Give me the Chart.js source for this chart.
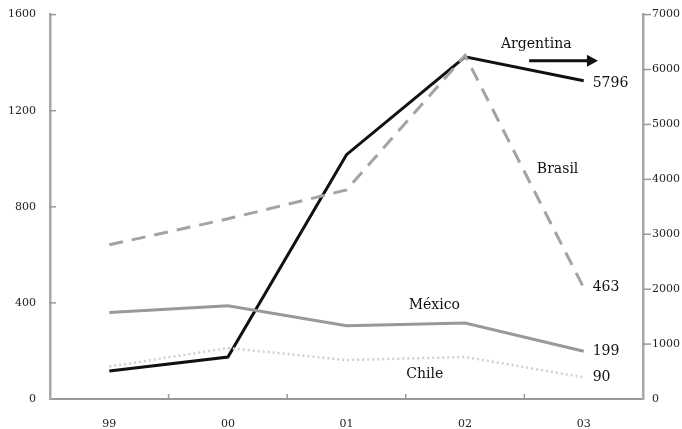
<!DOCTYPE html>
<html>
<head>
<meta charset="utf-8">
<script src="https://cdn.jsdelivr.net/npm/chart.js@4/dist/chart.umd.min.js"></script>
<style>
  html, body { margin: 0; padding: 0; background: #fff; }
  #wrap { width: 682px; height: 429px; }
</style>
</head>
<body>
<div id="wrap"><canvas id="chart"></canvas></div>
<script>
// Years on the x axis
const years = ['99', '00', '01', '02', '03'];

// Series values (Argentina on the right axis, the others on the left)
const argentina = [510, 765, 4450, 6230, 5796];
const brasil = [642, 750, 870, 1430, 463];
const mexico = [360, 388, 305, 316, 199];
const chile = [135, 212, 162, 175, 90];

// Axis ticks
const leftTicks = [0, 400, 800, 1200, 1600];
const rightTicks = [0, 1000, 2000, 3000, 4000, 5000, 6000, 7000];

const serif = "'DejaVu Serif', 'Liberation Serif', serif";

// Text labels next to the lines and the end values
const notes = [
    { text: 'Argentina', x: 3.6, y: 6450, axis: 'y1', align: 'center' },
    { text: 'Brasil', x: 3.78, y: 955, axis: 'y', align: 'center' },
    { text: 'México', x: 2.74, y: 388, axis: 'y', align: 'center' },
    { text: 'Chile', x: 2.66, y: 104, axis: 'y', align: 'center' }
];

// Draws the tick marks, the labels and the arrow
const extras = {
    id: 'extras',
    afterDraw(chart) {
        const ctx = chart.ctx;
        const xs = chart.scales.x;
        const yl = chart.scales.y;
        const yr = chart.scales.y1;
        const area = chart.chartArea;
        ctx.save();
        ctx.strokeStyle = '#9a9a9a';
        ctx.lineWidth = 1.5;
        // left ticks, inward
        leftTicks.slice(1).forEach(v => {
            const py = yl.getPixelForValue(v);
            ctx.beginPath();
            ctx.moveTo(area.left - 1, py);
            ctx.lineTo(area.left + 6, py);
            ctx.stroke();
        });
        // right ticks, outward
        rightTicks.slice(1).forEach(v => {
            const py = yr.getPixelForValue(v);
            ctx.beginPath();
            ctx.moveTo(area.right, py);
            ctx.lineTo(area.right + 8, py);
            ctx.stroke();
        });
        // x ticks between the years
        for (let i = 0; i < years.length - 1; i++) {
            const px = xs.getPixelForValue(i + 0.5);
            ctx.beginPath();
            ctx.moveTo(px, area.bottom);
            ctx.lineTo(px, area.bottom - 5);
            ctx.stroke();
        }

        // series names
        ctx.fillStyle = '#111';
        ctx.font = '14px ' + serif;
        ctx.textBaseline = 'middle';
        notes.forEach(n => {
            const sc = n.axis === 'y1' ? yr : yl;
            ctx.textAlign = n.align;
            ctx.fillText(n.text, xs.getPixelForValue(n.x), sc.getPixelForValue(n.y));
        });

        // end values
        ctx.textAlign = 'left';
        const last = years.length - 1;
        const ends = [
            [argentina[last], yr, 3],
            [brasil[last], yl, 0],
            [mexico[last], yl, 0],
            [chile[last], yl, 0]
        ];
        ends.forEach(([v, sc, dy]) => {
            ctx.fillText(String(v), xs.getPixelForValue(last) + 9, sc.getPixelForValue(v) + dy);
        });

        // arrow after "Argentina"
        const ay = yr.getPixelForValue(6160);
        const ax0 = xs.getPixelForValue(3.54);
        const ax1 = xs.getPixelForValue(4.12);
        ctx.strokeStyle = '#111';
        ctx.lineWidth = 3;
        ctx.beginPath();
        ctx.moveTo(ax0, ay);
        ctx.lineTo(ax1 - 8, ay);
        ctx.stroke();
        ctx.beginPath();
        ctx.moveTo(ax1, ay);
        ctx.lineTo(ax1 - 11, ay - 6);
        ctx.lineTo(ax1 - 11, ay + 6);
        ctx.closePath();
        ctx.fill();
        ctx.restore();
    }
};

const ctx = document.getElementById('chart').getContext('2d');

new Chart(ctx, {
    type: 'line',
    data: {
        labels: years,
        datasets: [
            {
                label: 'Chile',
                data: chile,
                yAxisID: 'y',
                borderColor: '#cfcfcf',
                borderWidth: 2.5,
                borderDash: [2, 3],
                pointRadius: 0,
                tension: 0
            },
            {
                label: 'México',
                data: mexico,
                yAxisID: 'y',
                borderColor: '#999999',
                borderWidth: 3,
                pointRadius: 0,
                tension: 0
            },
            {
                label: 'Brasil',
                data: brasil,
                yAxisID: 'y',
                borderColor: '#a3a3a3',
                borderWidth: 3,
                borderDash: [14, 9],
                pointRadius: 0,
                tension: 0
            },
            {
                label: 'Argentina',
                data: argentina,
                yAxisID: 'y1',
                borderColor: '#111111',
                borderWidth: 3,
                pointRadius: 0,
                tension: 0
            }
        ]
    },
    options: {
        responsive: true,
        maintainAspectRatio: false,
        animation: false,
        layout: { padding: 0 },
        plugins: {
            legend: { display: false },
            tooltip: { enabled: false }
        },
        scales: {
            x: {
                offset: true,
                grid: { display: false },
                border: { display: true, color: '#9a9a9a', width: 2 },
                ticks: { color: '#222', font: { family: serif, size: 11 }, padding: 11 },
                afterFit(scale) { scale.height = 30; }
            },
            y: {
                position: 'left',
                min: 0,
                max: 1600,
                afterBuildTicks(scale) { scale.ticks = leftTicks.map(v => ({ value: v })); },
                grid: { display: false, tickLength: 6 },
                border: { display: true, color: '#a8a8a8', width: 2.5 },
                ticks: {
                    color: '#222', font: { family: serif, size: 11 }, padding: 8,
                    callback: v => String(v)
                },
                afterFit(scale) { scale.width = 50; }
            },
            y1: {
                position: 'right',
                min: 0,
                max: 7000,
                afterBuildTicks(scale) { scale.ticks = rightTicks.map(v => ({ value: v })); },
                grid: { display: false, tickLength: 2 },
                border: { display: true, color: '#a8a8a8', width: 2.5 },
                ticks: {
                    color: '#222', font: { family: serif, size: 11 }, padding: 7,
                    callback: v => String(v)
                },
                afterFit(scale) { scale.width = 39; }
            }
        }
    },
    plugins: [extras]
});
</script>
</body>
</html>
